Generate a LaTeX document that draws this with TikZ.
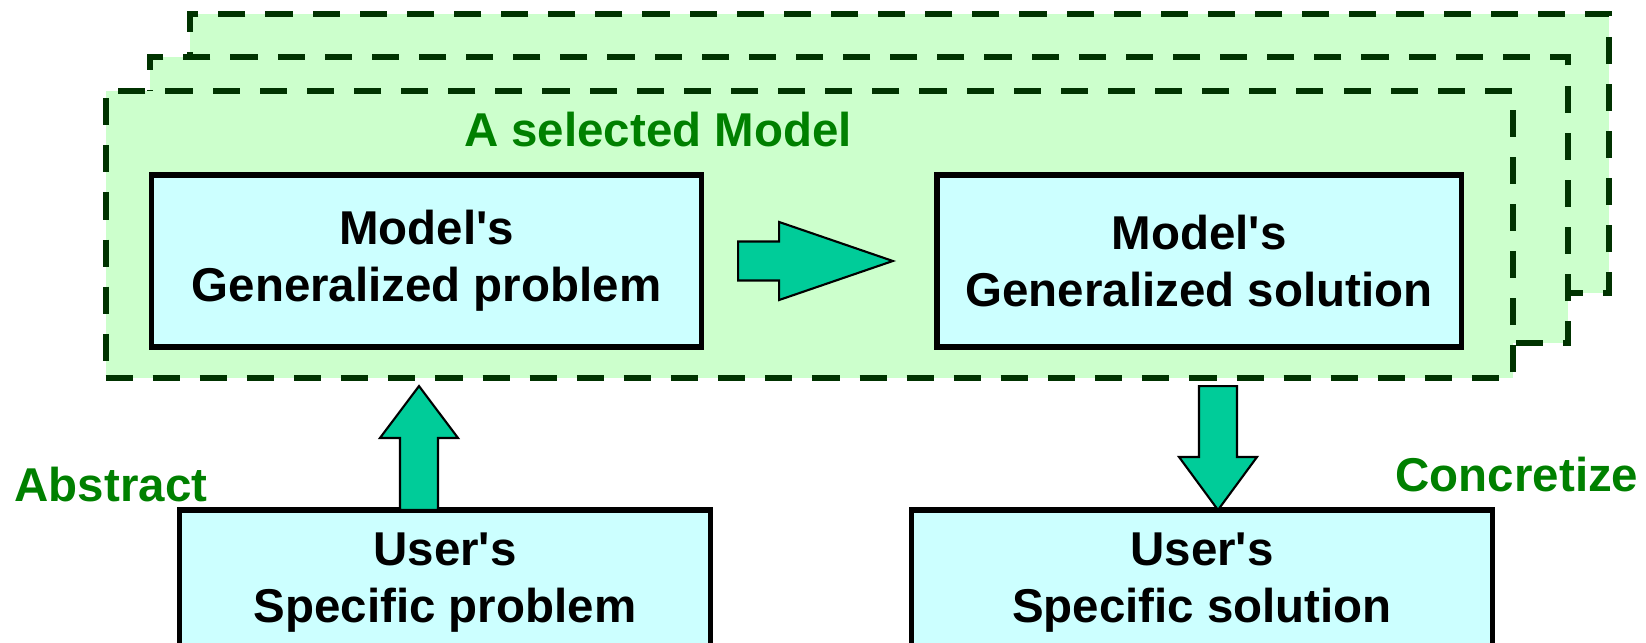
\documentclass[tikz,border=0pt]{standalone}
\usepackage{fontspec}
\setmainfont{Liberation Sans}[Ligatures=TeXOff]
\usetikzlibrary{calc}

\definecolor{framefill}{HTML}{CCFFCC}
\definecolor{frameline}{HTML}{003300}
\definecolor{boxfill}{HTML}{CCFFFF}
\definecolor{arrowfill}{HTML}{00CC99}
\definecolor{labelgreen}{HTML}{008000}

\tikzset{
  bigfont/.style={font=\fontsize{13.5}{16.2}\selectfont\bfseries},
  modelframe/.style={draw=frameline, fill=framefill, line width=1.7pt,
    dash pattern=on 7.7pt off 5.7pt, outer sep=0pt, inner sep=0pt},
  stepbox/.style={draw=black, fill=boxfill, line width=1.5pt, outer sep=0pt,
    align=center, bigfont},
  greenlabel/.style={text=labelgreen, bigfont, inner sep=0pt},
  bigarrow/.style={draw=black, fill=arrowfill, line width=0.6pt}
}

\begin{document}
\begin{tikzpicture}[x=0.01cm, y=-0.01cm]
  \useasboundingbox (0,0) rectangle (1646,643);
  \clip (0,0) rectangle (1646,643);

  % stack of model frames, back to front
  \node[modelframe, minimum width=14.19cm, minimum height=2.79cm] (back) at (899.5,153.5) {};
  \node[modelframe, minimum width=14.18cm, minimum height=2.86cm] (middle) at (859,200) {};
  \node[modelframe, minimum width=14.07cm, minimum height=2.87cm] (model) at (809.5,234.5) {};
  \node[greenlabel] (title) at (658,130) {A selected Model};

  \node[stepbox, minimum width=5.49cm, minimum height=1.72cm] (gp) at (426.5,261)
    {Model's\\Generalized problem};
  \node[stepbox, minimum width=5.24cm, minimum height=1.72cm] (gs) at (1199,261)
    {Model's\\Generalized solution};
  \node[stepbox, minimum width=5.30cm, minimum height=1.45cm] (usp) at (445,582.5)
    {User's\\Specific problem};
  \node[stepbox, minimum width=5.80cm, minimum height=1.45cm] (uss) at (1202,582.5)
    {User's\\Specific solution};

  \node[greenlabel] (abstract) at (111,485) {Abstract};
  \node[greenlabel] (concretize) at (1517,475) {Concretize};

  % block arrows
  \draw[bigarrow] ($(gp.east)+(37,-19.5)$) -- ++(41,0) -- ++(0,-19.5)
    -- ($(gs.west)+(-44,0)$) -- ($(gp.east)+(78,39)$) -- ++(0,-19.5)
    -- ++(-41,0) -- cycle;

  \coordinate (upfoot) at ($(usp.north)+(-26,0)$);
  \draw[bigarrow] ($(upfoot)+(-19,0)$) -- ++(0,-72) -- ++(-20,0)
    -- ($(upfoot |- model.south)+(0,8)$) -- ($(upfoot)+(39,-72)$)
    -- ++(-20,0) -- ++(0,72) -- cycle;

  \coordinate (downtip) at ($(uss.north)+(16,0)$);
  \draw[bigarrow] ($(downtip |- model.south)+(-19,8)$) -- ($(downtip)+(-19,-53)$)
    -- ++(-20,0) -- (downtip) -- ($(downtip)+(39,-53)$) -- ++(-20,0)
    -- ($(downtip |- model.south)+(19,8)$) -- cycle;
\end{tikzpicture}
\end{document}
